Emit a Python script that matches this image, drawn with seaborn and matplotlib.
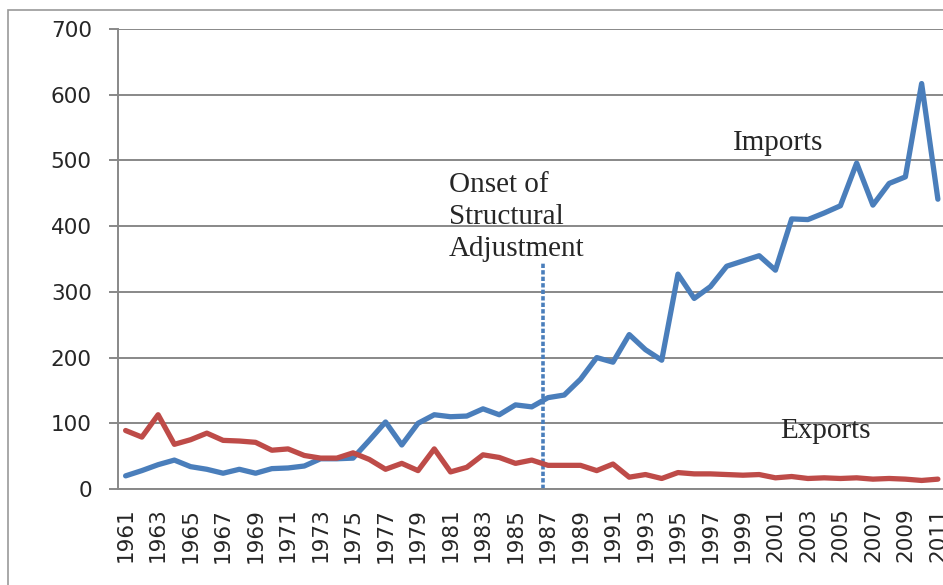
import numpy as np
import pandas as pd
import seaborn as sns
import matplotlib.pyplot as plt
from matplotlib.patches import Rectangle

years = list(range(1961, 2012))
imports = [20, 28, 37, 44, 34, 30, 24, 30, 24, 31,
           32, 35, 46, 46, 47, 74, 102, 67, 100, 113,
           110, 111, 122, 113, 128, 125, 139, 143, 167, 200,
           193, 235, 212, 196, 327, 290, 308, 339, 347, 355,
           333, 411, 410, 420, 431, 496, 432, 465, 475, 617,
           441]
exports = [89, 79, 113, 68, 75, 85, 74, 73, 71, 59,
           61, 51, 47, 47, 55, 45, 30, 39, 28, 61,
           26, 33, 52, 48, 39, 44, 36, 36, 36, 28,
           38, 18, 22, 16, 25, 23, 23, 22, 21, 22,
           17, 19, 16, 17, 16, 17, 15, 16, 15, 13,
           15]
# marker for the onset of structural adjustment (1987), drawn just left of the 1987 point
adjustment_x = 1986.7
adjustment_top = 345

df = pd.DataFrame({'year': years, 'Imports': imports, 'Exports': exports})
long = df.melt(id_vars='year', var_name='series', value_name='value')

sns.set_style("white")
fig = plt.figure(figsize=(9.43, 5.85), dpi=100)
ax = fig.add_axes([117.5 / 943, 1 - 489 / 585, 828.5 / 943, 460 / 585])

sns.lineplot(data=long, x='year', y='value', hue='series',
             palette={'Imports': '#4A7EBB', 'Exports': '#BE4B48'},
             linewidth=3.8, legend=False, ax=ax)

ax.plot([adjustment_x, adjustment_x], [0, adjustment_top], color='#4A7EBB',
        linewidth=2.6, linestyle=(0, (1.2, 0.6)), zorder=1)

ax.set_xlim(1960.5, 2011.5)
ax.set_ylim(0, 700)
ax.set_yticks(range(0, 701, 100))
ax.yaxis.grid(True, color='#888888', linewidth=1.4)
ax.set_axisbelow(True)

ax.set_xticks(years[::2])
ax.set_xticklabels([str(y) for y in years[::2]], rotation=90)
ax.set_xticks(np.arange(1960.5, 2012, 1), minor=True)
ax.tick_params(axis='x', which='major', length=0, pad=13.5, labelsize=15.5)
ax.tick_params(axis='x', which='minor', length=6, width=1.4, color='#888888', direction='out')
ax.tick_params(axis='y', length=6.5, width=1.4, color='#888888', pad=12, labelsize=15.5, left=True)
ax.set_xlabel('')
ax.set_ylabel('')

for side in ['top', 'right']:
    ax.spines[side].set_visible(False)
for side in ['left', 'bottom']:
    ax.spines[side].set_color('#888888')
    ax.spines[side].set_linewidth(1.4)

serif = {'family': 'Liberation Serif', 'size': 21}
ax.text(1980.9, 346, 'Onset of\nStructural\nAdjustment', fontdict=serif,
        va='bottom', ha='left', linespacing=1.28)
ax.text(1998.4, 527, 'Imports', fontdict=serif, va='center', ha='left')
ax.text(2001.3, 88, 'Exports', fontdict=serif, va='center', ha='left')

fig.patches.append(Rectangle((8 / 943, -0.1), 1.2, 1.1 - 10 / 585,
                             transform=fig.transFigure, fill=False,
                             edgecolor='#999999', linewidth=1.2))

fig.savefig('out.png', dpi=100)
